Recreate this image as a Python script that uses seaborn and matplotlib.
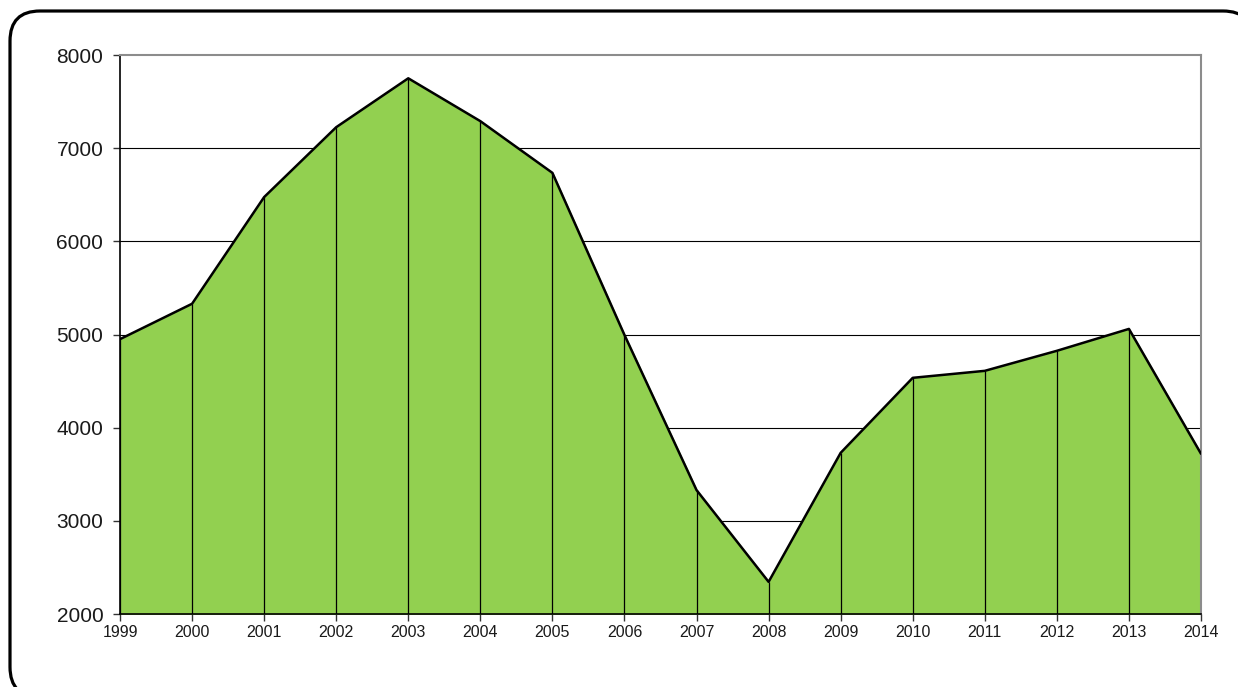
import matplotlib
matplotlib.use('Agg')
import matplotlib.pyplot as plt
from matplotlib.patches import FancyBboxPatch
import seaborn as sns

# du lieu doc tu bieu do
years = [1999, 2000, 2001, 2002, 2003, 2004, 2005, 2006,
         2007, 2008, 2009, 2010, 2011, 2012, 2013, 2014]
values = [4950, 5330, 6475, 7225, 7750, 7290, 6735, 4995,
          3330, 2345, 3730, 4535, 4610, 4825, 5060, 3720]
y_ticks = [2000, 3000, 4000, 5000, 6000, 7000, 8000]

sns.set_style('white')
plt.rcParams['font.family'] = ['Liberation Sans', 'DejaVu Sans']

W, H = 1238, 687
fig = plt.figure(figsize=(W / 100, H / 100), dpi=100)
ax = fig.add_axes([120 / W, 1 - 614 / H, (1201 - 120) / W, (614 - 55) / H])

# luoi ngang o phia sau
for yv in y_ticks[1:-1]:
    ax.axhline(yv, color='black', lw=0.8, zorder=0)

ax.fill_between(years, 2000, values, color='#92D050', zorder=1)
ax.vlines(years, 2000, values, color='black', lw=0.9, zorder=2)
sns.lineplot(x=years, y=values, color='black', lw=1.8, ax=ax, zorder=3)

ax.set_xlim(1999, 2014)
ax.set_ylim(2000, 8000)
ax.set_xticks(years)
ax.set_xticklabels([str(y) for y in years], fontsize=11.5, color='#1a1a1a')
ax.set_yticks(y_ticks)
ax.set_yticklabels([str(y) for y in y_ticks], fontsize=15, color='#1a1a1a')
ax.tick_params(axis='both', direction='out', length=5, width=1, color='#333333',
               bottom=True, left=True)
ax.tick_params(axis='x', pad=3)
ax.tick_params(axis='y', pad=7)

for side in ['left', 'bottom']:
    ax.spines[side].set_color('black')
    ax.spines[side].set_linewidth(1.2)
for side in ['top', 'right']:
    ax.spines[side].set_color('#8c8c8c')
    ax.spines[side].set_linewidth(1.5)
ax.set_xlabel('')
ax.set_ylabel('')

# khung bo goc (co mau nen trang de tranh loi cat duong cong o mep hinh)
x0, x1 = 10 / W, 1253 / W
y0, y1 = -10 / H, 1 - 11 / H
box = FancyBboxPatch((x0, y0), x1 - x0, y1 - y0,
                     boxstyle='round,pad=0,rounding_size=%f' % (30 / W),
                     mutation_aspect=W / H, transform=fig.transFigure,
                     facecolor='white', edgecolor='black', lw=2.3, zorder=-1)
fig.patches.append(box)

fig.savefig('out.png', dpi=100)
